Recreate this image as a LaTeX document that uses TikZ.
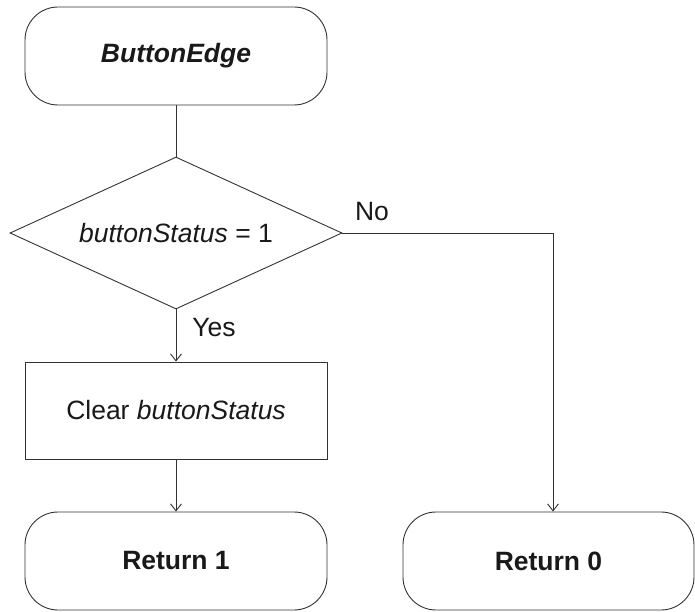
\documentclass[tikz,border=0pt]{standalone}
\usepackage{fontspec}
\setmainfont{Liberation Sans}
\usetikzlibrary{shapes.geometric,arrows.meta}
\begin{document}
\begin{tikzpicture}[x=1pt,y=-1pt,
  every node/.style={font=\fontsize{26.5}{30}\selectfont, text=black!90},
  line/.style={draw=black!80, line width=0.9pt},
  term/.style={line, rounded corners=33pt, minimum width=302pt, minimum height=98pt, inner sep=0pt},
  procbox/.style={line, minimum width=302pt, minimum height=97pt, inner sep=0pt},
  decision/.style={line, diamond, shape aspect=2.184, minimum width=332pt, minimum height=152pt, inner sep=0pt},
  flow/.style={line, -{Straight Barb[length=7pt,width=11pt]}},
  lbl/.style={inner sep=0pt}
  ]
\useasboundingbox (0,0) rectangle (695,612);
\node[term, font=\fontsize{26.5}{30}\selectfont\bfseries\itshape] (start) at (176,56) {ButtonEdge};
\node[decision] (dec) at (176,233) {\textit{buttonStatus} = 1};
\node[procbox] (clr) at (176,410.5) {Clear \textit{buttonStatus}};
\node[term, font=\fontsize{26.5}{30}\selectfont\bfseries] (r1) at (176,561) {Return 1};
\node[term, font=\fontsize{26.5}{30}\selectfont\bfseries, minimum width=291pt] (r0) at (548.5,561) {Return 0};
\draw[line] (start.south) -- (dec.north);
\draw[flow] (dec.south) -- (clr.north);
\draw[flow] (clr.south) -- (r1.north);
\coordinate (r0in) at ([xshift=4.5pt]r0.north);
\draw[flow] (dec.east) -| (r0in);
\node[lbl] (yes) at (214,328) {Yes};
\node[lbl] (no) at (372,212) {No};
\end{tikzpicture}
\end{document}
